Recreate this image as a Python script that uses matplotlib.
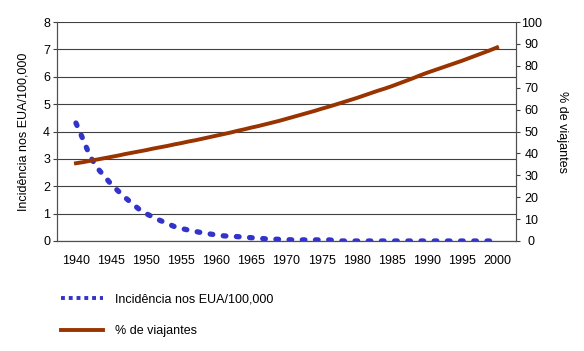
import matplotlib
matplotlib.use("Agg")
import matplotlib.pyplot as plt
import numpy as np

plt.rcParams['font.family'] = ['Liberation Sans', 'DejaVu Sans']

# dados
anos = list(range(1940, 2001))
incidencia = [4.31, 3.72, 3.10, 2.68, 2.38, 2.08, 1.83, 1.59, 1.37, 1.16,
              1.00, 0.87, 0.75, 0.64, 0.53, 0.46, 0.40, 0.35, 0.30, 0.26,
              0.22, 0.19, 0.17, 0.16, 0.14, 0.12, 0.10, 0.08, 0.07, 0.06,
              0.05, 0.04, 0.04, 0.04, 0.04, 0.04, 0.04, 0.02, 0.0, 0.0,
              0.0, 0.0, 0.0, 0.0, 0.0, 0.0, 0.0, 0.0, 0.0, 0.0,
              0.0, 0.0, 0.0, 0.0, 0.0, 0.0, 0.0, 0.0, 0.0, 0.0, 0.0]
viajantes = [35.5, 36.0, 36.6, 37.2, 37.8, 38.4, 39.0, 39.7, 40.3, 40.9,
             41.5, 42.2, 42.8, 43.4, 44.1, 44.7, 45.4, 46.0, 46.7, 47.4,
             48.1, 48.8, 49.5, 50.3, 51.0, 51.8, 52.5, 53.3, 54.1, 54.9,
             55.8, 56.7, 57.6, 58.5, 59.4, 60.4, 61.3, 62.3, 63.3, 64.3,
             65.3, 66.4, 67.5, 68.6, 69.6, 70.7, 71.9, 73.1, 74.3, 75.6,
             76.8, 77.9, 79.0, 80.1, 81.2, 82.3, 83.5, 84.7, 85.9, 87.1, 88.4]
xticks = list(range(1940, 2001, 5))

azul = '#3333cc'
marrom = '#993300'

fig = plt.figure(figsize=(5.84, 3.51), dpi=100)
ax = fig.add_axes([0.0976, 0.3134, 0.786, 0.6239])
ax2 = ax.twinx()

# grade horizontal
for v in range(0, 9):
    ax.axhline(v, color='#404040', lw=0.8, zorder=0)

l1, = ax.plot(anos, incidencia, color=azul, lw=3.8, linestyle=(0, (0.5, 2.0)),
              dash_capstyle='round', label='Incidência nos EUA/100,000', zorder=3)
l2, = ax2.plot(anos, viajantes, color=marrom, lw=2.8,
               label='% de viajantes', zorder=3)

ax.set_xlim(1937.3, 2002.7)
ax.set_ylim(0, 8)
ax2.set_ylim(0, 100)
ax.set_xticks(xticks)
ax.set_yticks(range(0, 9))
ax2.set_yticks(range(0, 101, 10))

ax.tick_params(axis='x', length=0, labelsize=9, pad=10)
ax.tick_params(axis='y', length=3, labelsize=9, pad=2, color='#404040')
ax2.tick_params(axis='y', length=3, labelsize=9, pad=8, color='#404040')
for t in ax2.get_yticklabels():
    t.set_horizontalalignment('center')

for a in (ax, ax2):
    a.spines['top'].set_visible(False)
    for s in ('left', 'right', 'bottom'):
        a.spines[s].set_color('#505050')

ax.set_ylabel('Incidência nos EUA/100,000', fontsize=9, labelpad=10)
ax2.set_ylabel('% de viajantes', fontsize=9, rotation=270, labelpad=19)

leg = fig.legend(handles=[l1, l2], loc='upper left', bbox_to_anchor=(0.085, 0.195),
                 frameon=False, fontsize=9, handlelength=3.4, labelspacing=1.55,
                 handletextpad=0.9)
leg.legend_handles[0].set_linestyle((0, (1.0, 1.0)))
leg.legend_handles[0].set_dash_capstyle('butt')
leg.legend_handles[0].set_linewidth(2.8)

fig.savefig('out.png', dpi=100)
